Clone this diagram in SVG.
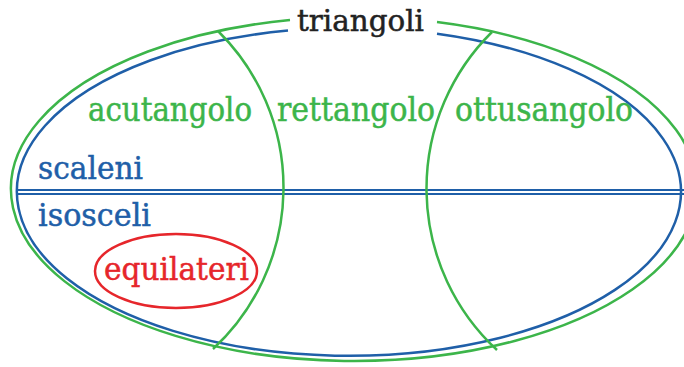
<svg xmlns="http://www.w3.org/2000/svg" width="684" height="367" viewBox="0 0 684 367">
<style>
.g{fill:none;stroke:#3cb54a;stroke-width:2.5}
.b{fill:none;stroke:#1f5fa8;stroke-width:2.5}
.bl{fill:none;stroke:#1f5fa8;stroke-width:1.9}
.r{fill:none;stroke:#e6262b;stroke-width:2.5}
text{font-family:"DejaVu Serif","Liberation Serif",serif;stroke-width:0.5}
.tg{fill:#3cb54a;stroke:#3cb54a;font-size:33px}
.tb{fill:#1f5fa8;stroke:#1f5fa8;font-size:31px}
.tr{fill:#e6262b;stroke:#e6262b;font-size:32px}
.tk{fill:#222;stroke:#222;font-size:29px}
</style>
<rect width="684" height="367" fill="#fff"/>
<g id="connectors">
<path class="g" d="M437,22.1 A343,172 0 1 1 290,20"/>
<path class="b" d="M437,33.7 A332,164 0 1 1 288,30.6"/>
<line class="bl" x1="18" y1="190" x2="684" y2="190"/>
<line class="bl" x1="18" y1="194" x2="684" y2="194"/>
<path class="g" d="M218,31 A220,220 0 0 1 213,349"/>
<path class="g" d="M492,32 A220,220 0 0 0 497,350"/>
</g>
<g id="triangoli"><text class="tk" x="297" y="31" textLength="127" lengthAdjust="spacingAndGlyphs">triangoli</text></g>
<g id="acutangolo"><text class="tg" x="88" y="121" textLength="164" lengthAdjust="spacingAndGlyphs">acutangolo</text></g>
<g id="rettangolo"><text class="tg" x="277" y="121" textLength="158" lengthAdjust="spacingAndGlyphs">rettangolo</text></g>
<g id="ottusangolo"><text class="tg" x="455" y="121" textLength="178" lengthAdjust="spacingAndGlyphs">ottusangolo</text></g>
<g id="scaleni"><text class="tb" x="38" y="179" textLength="105" lengthAdjust="spacingAndGlyphs">scaleni</text></g>
<g id="isosceli"><text class="tb" x="38" y="226" textLength="113" lengthAdjust="spacingAndGlyphs">isosceli</text></g>
<g id="equilateri">
<ellipse class="r" cx="176" cy="271" rx="81" ry="37"/>
<text class="tr" x="104" y="280" textLength="145" lengthAdjust="spacingAndGlyphs">equilateri</text>
</g>
</svg>
